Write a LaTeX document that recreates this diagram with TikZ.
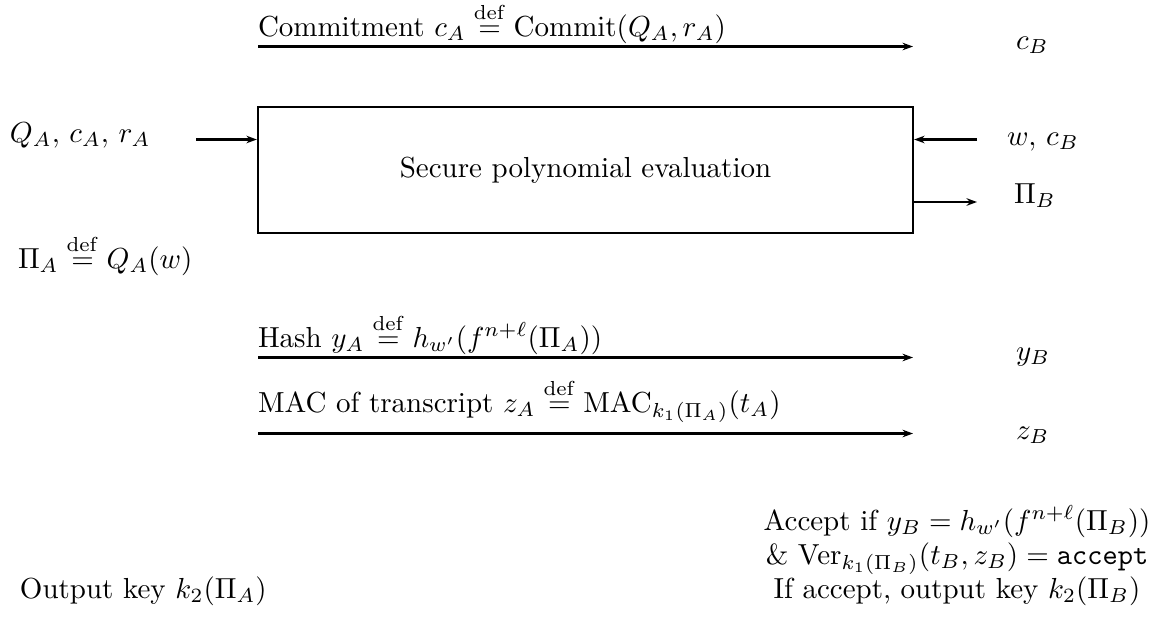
\documentclass[tikz,border=0pt]{standalone}
\usepackage{amsmath}
\usetikzlibrary{arrows.meta}
\newcommand{\defeq}{\stackrel{\mathrm{def}}{=}}
\begin{document}
\begin{tikzpicture}[x=0.345pt,y=-0.345pt,
  lbl/.style={anchor=base west, inner sep=0pt, outer sep=0pt},
  msg/.style={line width=0.8pt, -{Stealth[length=3.6pt,width=2.6pt]}},
  boxst/.style={draw, line width=0.8pt, minimum width=655*0.345pt, minimum height=126*0.345pt, inner sep=0pt}]
\useasboundingbox (0,0) rectangle (1157,619);
% box
\node[boxst] (box) at (585.5,170) {Secure polynomial evaluation};
% commitment
\coordinate (c1s) at (258,46.5);
\coordinate (c1e) at (913,46.5);
\draw[msg] (c1s) -- (c1e);
\node[lbl] (commit) at (258,36) {Commitment $c_A \defeq \mathrm{Commit}(Q_A, r_A)$};
\node[lbl] (cB) at (1016,49) {$c_B$};
% inputs
\node[lbl] (qa) at (10,142) {$Q_A,\,c_A,\,r_A$};
\coordinate (inL) at (196,139.5);
\draw[msg] (inL) -- (box.west |- inL);
\node[lbl] (wcB) at (1007,145) {$w,\,c_B$};
\coordinate (inR) at (977,139.5);
\draw[msg] (inR) -- (box.east |- inR);
\coordinate (outR) at (977,202);
\draw[msg] (box.east |- outR) -- (outR);
\node[lbl] (piB) at (1014,203) {$\Pi_B$};
\node[lbl] (piA) at (18,268) {$\Pi_A \defeq Q_A(w)$};
% hash
\coordinate (h1s) at (258,357.5);
\coordinate (h1e) at (913,357.5);
\draw[msg] (h1s) -- (h1e);
\node[lbl] (hash) at (258,347) {Hash $y_A \defeq h_{w'}(f^{n+\ell}(\Pi_A))$};
\node[lbl] (yB) at (1016,360) {$y_B$};
% MAC
\coordinate (m1s) at (258,433.5);
\coordinate (m1e) at (913,433.5);
\draw[msg] (m1s) -- (m1e);
\node[lbl] (mac) at (258,412) {MAC of transcript $z_A \defeq \mathrm{MAC}_{k_1(\Pi_A)}(t_A)$};
\node[lbl] (zB) at (1016,439) {$z_B$};
% bottom
\node[anchor=base, inner sep=0pt] (acc1) at (957,530) {Accept if $y_B = h_{w'}(f^{n+\ell}(\Pi_B))$};
\node[anchor=base, inner sep=0pt] (acc2) at (957,564) {\& $\mathrm{Ver}_{k_1(\Pi_B)}(t_B, z_B) = \texttt{accept}$};
\node[anchor=base, inner sep=0pt] (acc3) at (957,598) {If accept, output key $k_2(\Pi_B)$};
\node[lbl] (outA) at (20,598) {Output key $k_2(\Pi_A)$};
\end{tikzpicture}
\end{document}
